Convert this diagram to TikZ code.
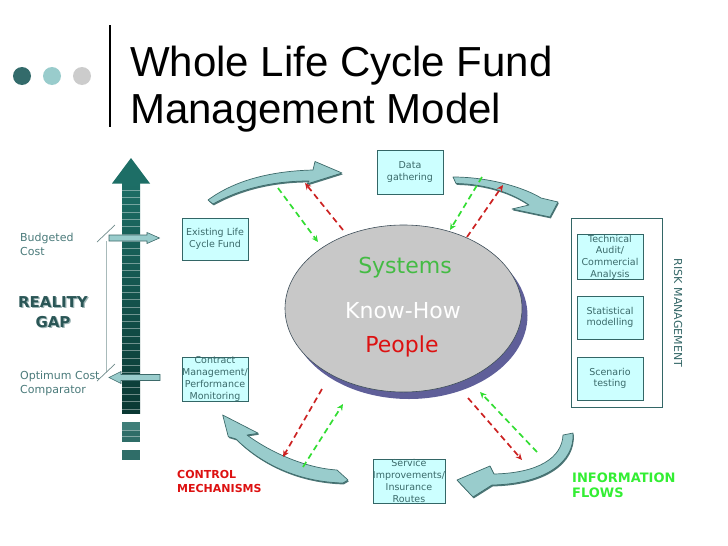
\documentclass[tikz,border=0pt]{standalone}
\usepackage{fontspec}
\setmainfont{DejaVu Sans}
\newfontfamily\titlefont{Liberation Sans}
\usetikzlibrary{arrows.meta,shapes.geometric}
\definecolor{tealdark}{HTML}{336666}
\definecolor{boxfill}{HTML}{CCFFFF}
\definecolor{boxtext}{HTML}{3A6A6A}
\definecolor{arrfill}{HTML}{99CCCC}
\definecolor{arrline}{HTML}{3D6A6A}
\definecolor{arrshadow}{HTML}{4E7777}
\definecolor{sidetext}{HTML}{4A7A7A}
\definecolor{dotA}{HTML}{336B6B}
\definecolor{dotB}{HTML}{99CCCC}
\definecolor{dotC}{HTML}{CCCCCC}
\definecolor{shaftTop}{HTML}{1D6E66}
\definecolor{shaftBot}{HTML}{0A3833}
\definecolor{blockc}{HTML}{2F6D68}
\definecolor{blocklight}{HTML}{3F7E79}
\definecolor{gapline}{HTML}{A8BABA}
\definecolor{tickline}{HTML}{6E8A8A}
\definecolor{ellfill}{HTML}{C8C8C8}
\definecolor{ellshadow}{HTML}{5F5F99}
\definecolor{ellline}{HTML}{3F4F5A}
\definecolor{sysgreen}{HTML}{44BB44}
\definecolor{peoplered}{HTML}{DD1111}
\definecolor{dashred}{HTML}{CC2222}
\definecolor{dashgreen}{HTML}{33DD33}
\definecolor{ctrlred}{HTML}{DD1111}
\definecolor{infogreen}{HTML}{33EE33}
\definecolor{gapdark}{HTML}{2A5656}
\definecolor{gapshadow}{HTML}{9DB5B5}
\begin{document}
\begin{tikzpicture}[x=1pt,y=-1pt,
  box/.style={draw=tealdark, fill=boxfill, line width=0.8pt, minimum width=66pt, minimum height=44pt, inner sep=0pt, align=center, text=boxtext, font=\fontsize{9.5}{11.7}\selectfont},
  carrow/.style={fill=arrfill, draw=arrline, line width=0.7pt, line join=round},
  cshadow/.style={fill=arrshadow},
  dasharrow/.style={line width=1.7pt, dash pattern=on 6pt off 4pt, -{Stealth[length=6.5pt,width=6pt]}},
  sidelabel/.style={anchor=north west, inner sep=0pt, align=left, text=sidetext, font=\fontsize{11}{14}\selectfont},
  stripe/.style={draw=white, draw opacity=0.4, line width=0.6pt},
  smallarrow/.style={fill=arrfill, draw=arrline, line width=0.6pt, line join=miter}
]
\useasboundingbox (0,0) rectangle (728,546);

% header
\fill[dotA] (22,76) circle (9);
\fill[dotB] (52,76) circle (9);
\fill[dotC] (82,76) circle (9);
\draw[line width=2pt] (110,25) -- (110,127);
\node[anchor=base west, inner sep=0pt, font=\titlefont\fontsize{42}{48}\selectfont] (t1) at (130,76) {Whole Life Cycle Fund};
\node[anchor=base west, inner sep=0pt, font=\titlefont\fontsize{42}{48}\selectfont] (t2) at (130,123) {Management Model};

% big vertical arrow
\shade[top color=shaftTop, bottom color=shaftBot] (122,183) rectangle (140,413);
\fill[shaftTop] (131,158) -- (150,183.5) -- (112,183.5) -- cycle;
\foreach \i in {0,...,30} \draw[stripe] (122,{190+7.3*\i}) -- (140,{190+7.3*\i});
\fill[blockc] (122,422) rectangle (139.5,442);
\fill[blocklight] (122,422) rectangle (139.5,430);
\draw[stripe] (122,430) -- (139.5,430);
\draw[stripe] (122,436) -- (139.5,436);
\fill[blockc] (122,450) rectangle (139.5,459.5);

% reality gap markers
\draw[gapline, line width=1pt] (106,241) -- (106,372);
\draw[tickline, line width=0.7pt] (97,242) -- (115,225);
\draw[tickline, line width=0.7pt] (97,381) -- (115,364);
\draw[smallarrow] (109,235) -- (147,235) -- (147,232.5) -- (159.5,238) -- (147,243.5) -- (147,241) -- (109,241) -- cycle;
\draw[smallarrow] (160,374.5) -- (121,374.5) -- (121,371.5) -- (109,377.5) -- (121,383.5) -- (121,380.5) -- (160,380.5) -- cycle;

\node[sidelabel] (budget) at (20,233) {Budgeted\\Cost};
\node[sidelabel] (optimum) at (20,371) {Optimum Cost\\Comparator};
\node[anchor=north, inner sep=0pt, align=center, text=gapshadow, font=\bfseries\fontsize{15}{20}\selectfont] (gapsh) at (54.2,297.2) {REALITY\\GAP};
\node[anchor=north, inner sep=0pt, align=center, text=gapdark, font=\bfseries\fontsize{15}{20}\selectfont] (gap) at (53,296) {REALITY\\GAP};

% boxes
\node[box, minimum height=42pt] (exist) at (215,239) {Existing Life\\Cycle Fund};
\node[box] (contract) at (215,379) {Contract\\Management/\\Performance\\Monitoring};
\node[box] (data) at (410,172) {Data\\gathering};
\node[box] (service) at (409,481) {Service\\Improvements/\\Insurance\\Routes};

% risk management group
\node[draw=tealdark, fill=white, line width=0.8pt, minimum width=91pt, minimum height=189pt, inner sep=0pt] (risk) at (616.5,312.5) {};
\node[box] (tech) at (610,257) {Technical\\Audit/\\Commercial\\Analysis};
\node[box, minimum height=43pt] (stat) at (610,317.5) {Statistical\\modelling};
\node[box, minimum height=43pt] (scen) at (610,378.5) {Scenario\\testing};
\node[rotate=-90, inner sep=0pt, text=tealdark, font=\fontsize{11}{12}\selectfont] (risklabel) at (678,313) {RISK MANAGEMENT};

% central ellipse
\fill[ellshadow] (409,315.5) ellipse [x radius=118.5, y radius=83.5];
\node[ellipse, draw=ellline, fill=ellfill, line width=0.6pt, minimum width=237pt, minimum height=167pt, inner sep=0pt] (sys) at (403.5,308.5) {};
\node[anchor=base, inner sep=0pt, text=sysgreen, font=\fontsize{22}{26}\selectfont] (systems) at (405,273) {Systems};
\node[anchor=base, inner sep=0pt, text=white, font=\fontsize{22}{26}\selectfont] (knowhow) at (403,318) {Know-How};
\node[anchor=base, inner sep=0pt, text=peoplered, font=\fontsize{22}{26}\selectfont] (people) at (402,352) {People};

% curved block arrows
\def\arrTL{(208,200) .. controls (235,180) and (272,171) .. (313,170) -- (315,161.5) -- (342,173) -- (307,184) -- (309,181) .. controls (272,181) and (240,189) .. (213,204) -- cycle}
\def\arrTR{(453,177) .. controls (490,177) and (525,188) .. (541,198) -- (558,202) -- (550,217) -- (512,209) -- (529,205) .. controls (512,193) and (486,184) .. (456,183.5) -- cycle}
\def\arrBR{(573,433) .. controls (575,462) and (545,484) .. (492,485) -- (473,497) -- (457,480) -- (490,466) -- (494,474) .. controls (538,473) and (562,458) .. (563,435) -- cycle}
\def\arrBL{(222.7,415) -- (258.3,433.3) -- (247,435) .. controls (270,452) and (305,468) .. (337,470) -- (348,480) -- (343,483) .. controls (300,482) and (262,465) .. (236,439) -- (228.3,436.7) -- cycle}
\fill[cshadow, shift={(0.8,1.4)}] \arrTL;
\filldraw[carrow] \arrTL;
\fill[cshadow, shift={(0.8,1.4)}] \arrTR;
\filldraw[carrow] \arrTR;
\fill[cshadow, shift={(0.8,1.4)}] \arrBR;
\filldraw[carrow] \arrBR;
\fill[cshadow, shift={(0.8,1.4)}] \arrBL;
\filldraw[carrow] \arrBL;

% dashed flow arrows
\coordinate (g1s) at (278,188); \coordinate (g1e) at (318,242);
\coordinate (r1s) at (343,230); \coordinate (r1e) at (305,183);
\coordinate (g2s) at (482,177); \coordinate (g2e) at (450,230);
\coordinate (r2s) at (467,237); \coordinate (r2e) at (503,185);
\coordinate (r3s) at (322,389); \coordinate (r3e) at (283,457);
\coordinate (g3s) at (303,467); \coordinate (g3e) at (343,404);
\coordinate (r4s) at (468,398); \coordinate (r4e) at (522,460);
\coordinate (g4s) at (537,452); \coordinate (g4e) at (480,392);
\draw[dasharrow, dashgreen] (g1s) -- (g1e);
\draw[dasharrow, dashred] (r1s) -- (r1e);
\draw[dasharrow, dashgreen] (g2s) -- (g2e);
\draw[dasharrow, dashred] (r2s) -- (r2e);
\draw[dasharrow, dashred] (r3s) -- (r3e);
\draw[dasharrow, dashgreen] (g3s) -- (g3e);
\draw[dasharrow, dashred] (r4s) -- (r4e);
\draw[dasharrow, dashgreen] (g4s) -- (g4e);

% bottom labels
\node[anchor=north west, inner sep=0pt, align=left, text=ctrlred, font=\bfseries\fontsize{11}{14}\selectfont] (control) at (177,470) {CONTROL\\MECHANISMS};
\node[anchor=north west, inner sep=0pt, align=left, text=infogreen, font=\bfseries\fontsize{13}{15.5}\selectfont] (info) at (572,472.5) {INFORMATION\\FLOWS};
\end{tikzpicture}
\end{document}
